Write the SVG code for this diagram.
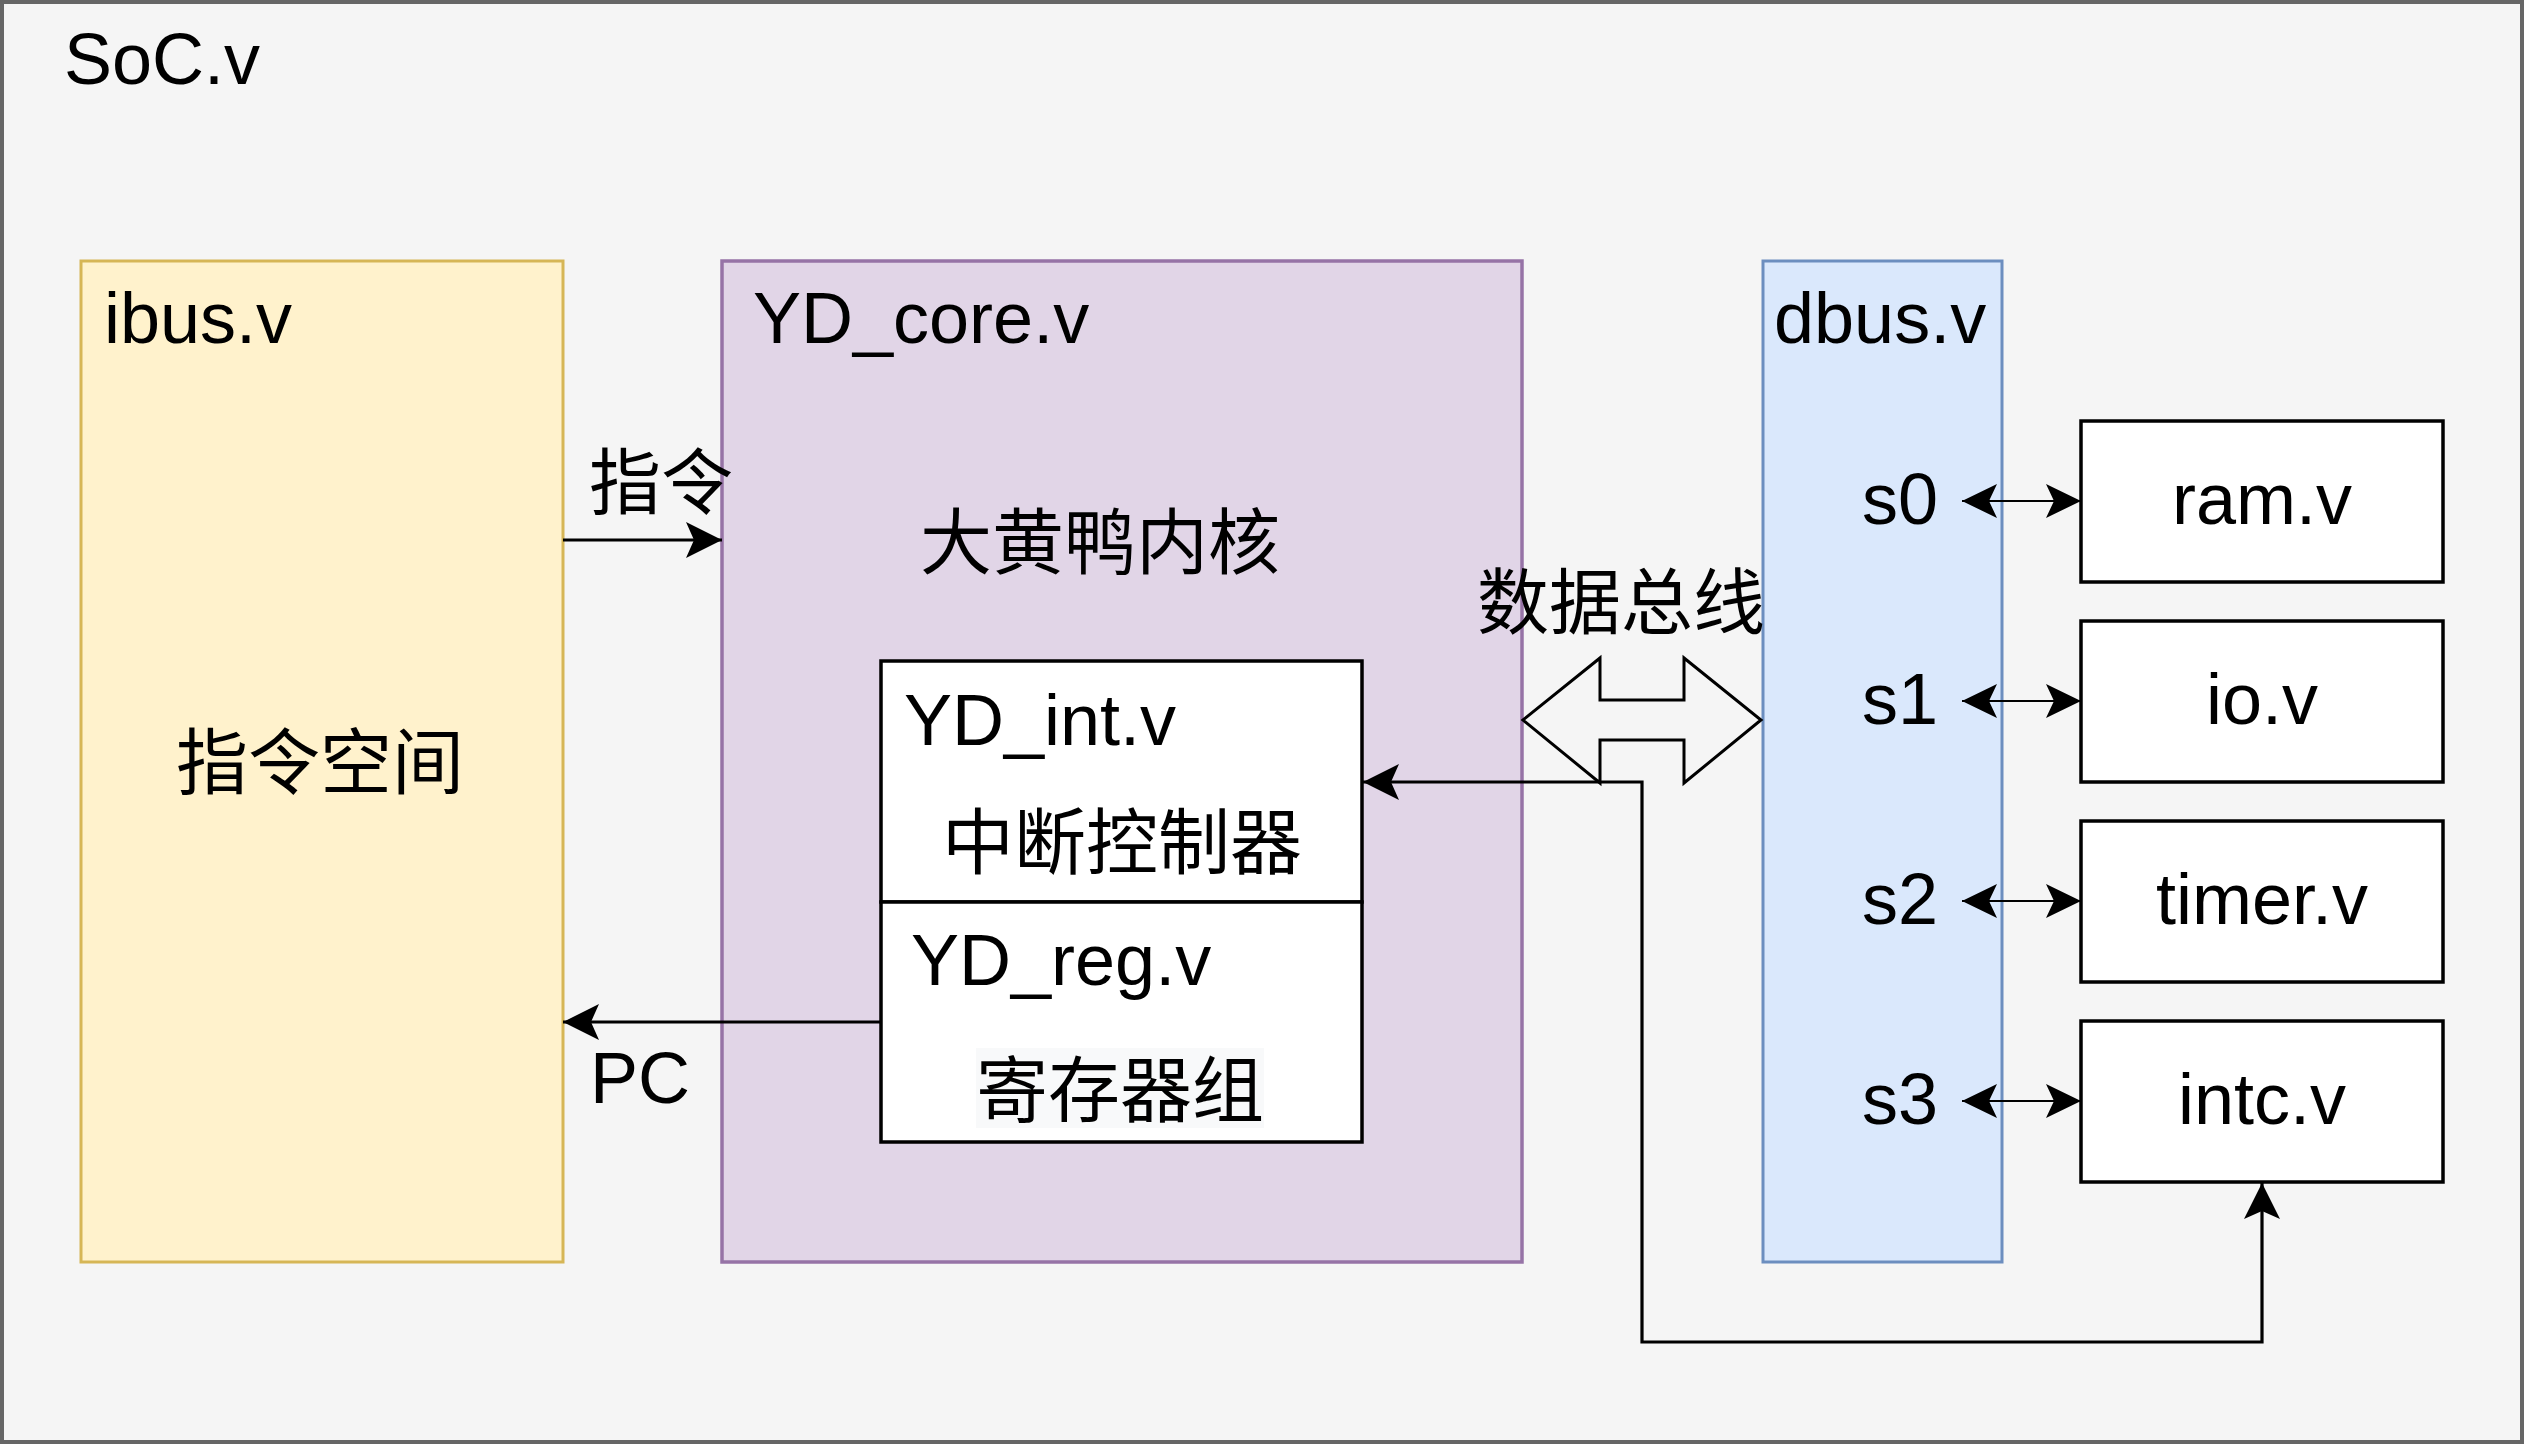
<svg xmlns="http://www.w3.org/2000/svg" width="2524" height="1444" viewBox="0 0 2524 1444">
<style>
text{font-family:"Liberation Sans","Noto Sans CJK SC",sans-serif;font-size:72px;fill:#000}
.mid{text-anchor:middle}
.box{fill:#fff;stroke:#000;stroke-width:3.5}
.edge{fill:none;stroke:#000;stroke-width:3.2}
.thin{fill:none;stroke:#000;stroke-width:2}
</style>
<defs>
<marker id="arr" markerUnits="userSpaceOnUse" orient="auto-start-reverse" refX="0" refY="0" markerWidth="1" markerHeight="1" overflow="visible">
<path d="M0,0 L-36,-18 L-28,0 L-36,18 Z" fill="#000"/>
</marker>
<marker id="sarr" markerUnits="userSpaceOnUse" orient="auto-start-reverse" refX="0" refY="0" markerWidth="1" markerHeight="1" overflow="visible">
<path d="M0,0 L-35,-17 L-27,0 L-35,17 Z" fill="#000"/>
</marker>
</defs>
<g id="soc">
<rect x="2" y="2" width="2520" height="1440" fill="#f5f5f5" stroke="#666666" stroke-width="4"/>
<text x="64" y="84">SoC.v</text>
</g>
<g id="ibus">
<rect x="81" y="261" width="482" height="1001" fill="#fff2cc" stroke="#d6b656" stroke-width="3"/>
<text x="104" y="343">ibus.v</text>
<text class="mid" x="320" y="788">指令空间</text>
</g>
<g id="core">
<rect x="722" y="261" width="800" height="1001" fill="#e1d5e7" stroke="#9673a6" stroke-width="3.5"/>
<text x="753" y="343">YD_core.v</text>
<text class="mid" x="1100" y="568">大黄鸭内核</text>
</g>
<g id="yd_int">
<rect class="box" x="881" y="661" width="481" height="241"/>
<text x="904" y="745">YD_int.v</text>
<text class="mid" x="1122" y="868">中断控制器</text>
</g>
<g id="yd_reg">
<rect class="box" x="881" y="902" width="481" height="240"/>
<text x="911" y="985">YD_reg.v</text>
<rect x="976" y="1048" width="288" height="80" fill="#f8f9fa"/>
<text class="mid" x="1120" y="1116">寄存器组</text>
</g>
<g id="dbus">
<rect x="1763" y="261" width="239" height="1001" fill="#dae8fc" stroke="#6c8ebf" stroke-width="3"/>
<text x="1774" y="343">dbus.v</text>
<text x="1862" y="524">s0</text>
<text x="1862" y="724">s1</text>
<text x="1862" y="924">s2</text>
<text x="1862" y="1124">s3</text>
</g>
<g id="ram">
<rect class="box" x="2081" y="421" width="362" height="161"/>
<text class="mid" x="2262" y="524">ram.v</text>
</g>
<g id="io">
<rect class="box" x="2081" y="621" width="362" height="161"/>
<text class="mid" x="2262" y="724">io.v</text>
</g>
<g id="timer">
<rect class="box" x="2081" y="821" width="362" height="161"/>
<text class="mid" x="2262" y="924">timer.v</text>
</g>
<g id="intc">
<rect class="box" x="2081" y="1021" width="362" height="161"/>
<text class="mid" x="2262" y="1124">intc.v</text>
</g>
<g id="databus">
<polygon points="1523,720 1600,658 1600,700 1684,700 1684,658 1761,720 1684,783 1684,740 1600,740 1600,783" fill="none" stroke="#000" stroke-width="3"/>
<text x="1477" y="628">数据总线</text>
</g>
<g id="connectors">
<path class="edge" d="M563,540 H722" marker-end="url(#arr)"/>
<text x="589" y="508">指令</text>
<path class="edge" d="M881,1022 H563" marker-end="url(#arr)"/>
<text x="590" y="1103">PC</text>
<path class="edge" d="M1363,782 H1642 V1342 H2262 V1183" marker-start="url(#arr)" marker-end="url(#arr)"/>
<path class="thin" d="M1962,501 H2081" marker-start="url(#sarr)" marker-end="url(#sarr)"/>
<path class="thin" d="M1962,701 H2081" marker-start="url(#sarr)" marker-end="url(#sarr)"/>
<path class="thin" d="M1962,901 H2081" marker-start="url(#sarr)" marker-end="url(#sarr)"/>
<path class="thin" d="M1962,1101 H2081" marker-start="url(#sarr)" marker-end="url(#sarr)"/>
</g>
</svg>
